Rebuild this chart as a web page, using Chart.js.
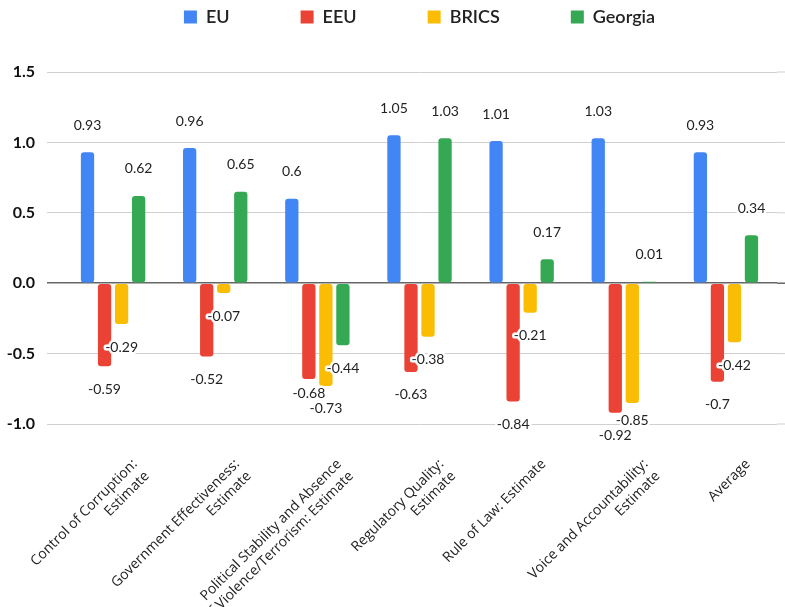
<!DOCTYPE html>
<html>
<head>
<meta charset="utf-8">
<script src="https://cdn.jsdelivr.net/npm/chart.js@4"></script>
<style>
  html, body { margin:0; padding:0; background:#fff; overflow:hidden; }
  #wrap { width:785px; height:607px; position:relative; }
</style>
</head>
<body>
<div id="wrap"><canvas id="chart"></canvas></div>
<script>
const categories = [
  ['Control of Corruption:', 'Estimate'],
  ['Government Effectiveness:', 'Estimate'],
  ['Political Stability and Absence', 'of Violence/Terrorism: Estimate'],
  ['Regulatory Quality:', 'Estimate'],
  ['Rule of Law: Estimate'],
  ['Voice and Accountability:', 'Estimate'],
  ['Average']
];
const eu      = [0.93, 0.96, 0.6, 1.05, 1.01, 1.03, 0.93];
const eeu     = [-0.59, -0.52, -0.68, -0.63, -0.84, -0.92, -0.7];
const brics   = [-0.29, -0.07, -0.73, -0.38, -0.21, -0.85, -0.42];
const georgia = [0.62, 0.65, -0.44, 1.03, 0.17, 0.01, 0.34];

const font = 'Lato, "Open Sans", sans-serif';

// value labels with a white halo just past the bar end;
// labels that would collide inside a group get pushed up
const valueLabels = {
  id: 'valueLabels',
  afterDatasetsDraw(chart) {
    const c = chart.ctx;
    c.save();
    c.font = '14px ' + font;
    c.textAlign = 'center';
    c.textBaseline = 'middle';
    c.lineJoin = 'round';
    const n = chart.data.labels.length;
    for (let j = 0; j < n; j++) {
      const items = chart.data.datasets.map((ds, i) => {
        const bar = chart.getDatasetMeta(i).data[j];
        const v = ds.data[j];
        const t = String(v);
        return { t, v, x: bar.x, y: bar.y + (v >= 0 ? -27 : 23), w: c.measureText(t).width };
      });
      // deepest first, others step up if they overlap
      const placed = [];
      items.slice().sort((a, b) => b.y - a.y).forEach(it => {
        let moved = true;
        while (moved) {
          moved = false;
          for (const p of placed) {
            if (Math.abs(p.x - it.x) < (p.w + it.w) / 2 && Math.abs(p.y - it.y) < 15) {
              it.y = p.y - 15;
              moved = true;
            }
          }
        }
        placed.push(it);
      });
      items.forEach(it => {
        c.strokeStyle = '#fff';
        c.lineWidth = 5;
        c.strokeText(it.t, it.x, it.y);
        c.fillStyle = '#222';
        c.fillText(it.t, it.x, it.y);
      });
    }
    c.restore();
  }
};

// carry the horizontal grid lines on to the right edge of the page
const gridRight = {
  id: 'gridRight',
  beforeDatasetsDraw(chart) {
    const c = chart.ctx, ys = chart.scales.y, a = chart.chartArea;
    c.save();
    ys.ticks.forEach(t => {
      const y = ys.getPixelForValue(t.value);
      c.strokeStyle = t.value === 0 ? '#666' : '#d0d0d0';
      c.lineWidth = t.value === 0 ? 1.5 : 1;
      c.beginPath();
      c.moveTo(a.right, y);
      c.lineTo(chart.width, y);
      c.stroke();
    });
    c.restore();
  }
};

// legend: centred over the plot area, pulled up to the top edge
const legendPlace = {
  id: 'legendPlace',
  afterLayout(chart) {
    const lg = chart.legend, a = chart.chartArea;
    const p = lg.options.labels.padding;
    lg.left = a.left;
    lg.right = a.right;
    lg.width = a.right - a.left;
    lg.top = 17 - 9 - p;
  }
};

new Chart(document.getElementById('chart'), {
  type: 'bar',
  data: {
    labels: categories,
    datasets: [
      { label: 'EU', data: eu, backgroundColor: '#4285F4' },
      { label: 'EEU', data: eeu, backgroundColor: '#EA4335' },
      { label: 'BRICS', data: brics, backgroundColor: '#FBBC04' },
      { label: 'Georgia', data: georgia, backgroundColor: '#34A853' }
    ]
  },
  options: {
    responsive: true,
    maintainAspectRatio: false,
    animation: false,
    layout: { padding: { top: 0, right: 8, left: 0, bottom: 0 } },
    datasets: { bar: { categoryPercentage: 0.667, barPercentage: 0.78, borderRadius: 3, borderSkipped: false } },
    scales: {
      x: {
        grid: { display: false },
        border: { display: false },
        ticks: {
          minRotation: 45, maxRotation: 45, autoSkip: false, padding: 24, labelOffset: 22,
          color: '#222', font: { family: '"Open Sans", sans-serif', size: 14 }
        },
        afterFit(s) { s.height = 183; s.paddingLeft = 0; s.paddingRight = 0; }
      },
      y: {
        min: -1, max: 1.5,
        border: { display: false },
        grid: {
          color: ctx => ctx.tick && ctx.tick.value === 0 ? '#666' : '#d0d0d0',
          lineWidth: ctx => ctx.tick && ctx.tick.value === 0 ? 1.5 : 1,
          tickLength: 15
        },
        ticks: {
          stepSize: 0.5, padding: 12, color: '#111',
          font: { family: font, weight: 'bold', size: 16 },
          callback: v => Number(v).toFixed(1)
        },
        afterFit(s) { s.width = 62; }
      }
    },
    plugins: {
      legend: {
        position: 'top',
        maxHeight: 72,
        labels: {
          boxWidth: 13, boxHeight: 13, padding: 71, color: '#222',
          font: { family: font, size: 18, weight: '600' }
        }
      },
      tooltip: { enabled: false }
    }
  },
  plugins: [valueLabels, gridRight, legendPlace]
});
</script>
</body>
</html>
